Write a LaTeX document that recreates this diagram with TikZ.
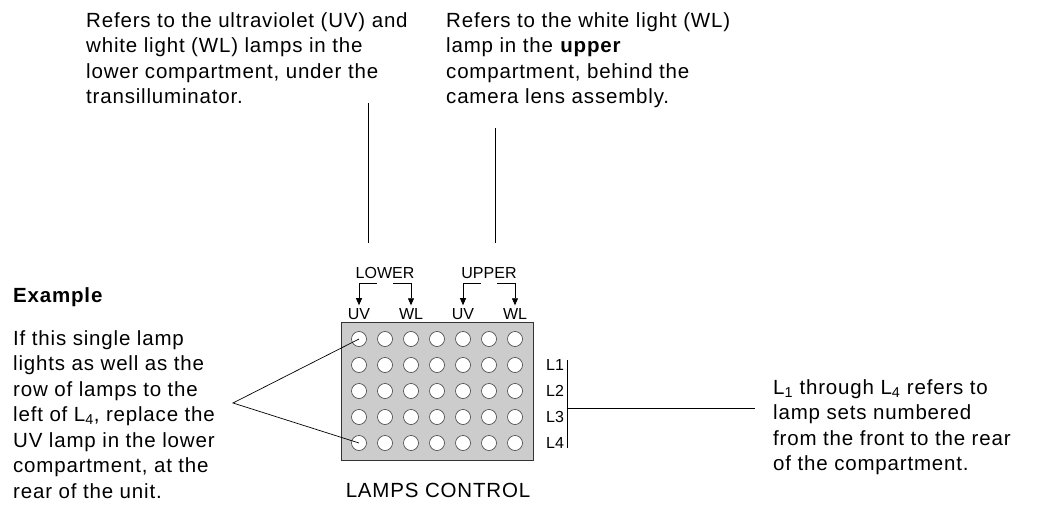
\documentclass[tikz,border=0pt]{standalone}
\usepackage{fontspec}
\setmainfont[LetterSpace=4]{Liberation Sans}
\newfontfamily\lblfont{Liberation Sans}
\usetikzlibrary{arrows.meta, positioning}

\begin{document}
\begin{tikzpicture}[x=1pt, y=-1pt,
  txt/.style={anchor=north west, inner sep=0pt, align=left, font=\fontsize{20.5}{25.5}\selectfont},
  lbl/.style={inner sep=0pt, font=\lblfont\fontsize{16}{16}\selectfont},
  lamp/.style={circle, draw=black!75, fill=white, minimum size=15pt, inner sep=0pt, line width=0.6pt},
  lead/.style={line width=0.7pt},
  selarrow/.style={line width=0.7pt, -{Triangle[length=7pt,width=6pt]}}]

    % my colors
\definecolor{panelgray}{gray}{0.8}

    % page size as the reference
    \useasboundingbox (0,0) rectangle (1038,505);

    % Define the lamp grid
    \def\cx{359} % x of first column
    \def\cy{339} % y of first row
    \def\dd{26}  % pitch of the lamps

    % Top notes
    \node[txt] (lownote) at (86,12) {Refers to the ultraviolet (UV) and\\ white light (WL) lamps in the\\ lower compartment, under the\\ transilluminator.};
    \node[txt] (upnote) at (446,12) {Refers to the white light (WL)\\ lamp in the \textbf{upper}\\ compartment, behind the\\ camera lens assembly.};

    % Draw the panel
    \node[draw=black!80, fill=panelgray, line width=0.7pt, minimum width=192pt, minimum height=138pt, inner sep=0pt] (panel) at (437,391) {};
    \foreach \r in {1,...,5}
      \foreach \c in {1,...,7}
        \node[lamp] (c-\r-\c) at ({\cx+\dd*(\c-1)},{\cy+\dd*(\r-1)}) {};

    % Column labels
    \node[lbl] (uvlow) at (359,314) {UV};
    \node[lbl] (wllow) at (411,314) {WL};
    \node[lbl] (uvup) at (463,314) {UV};
    \node[lbl] (wlup) at (515,314) {WL};
    \node[lbl] (lower) at (385,273) {LOWER};
    \node[lbl] (upper) at (489,273) {UPPER};

    % Brackets under LOWER and UPPER
    \coordinate (lowA) at (377,283);
    \coordinate (lowB) at (393,283);
    \coordinate (upA) at (481,283);
    \coordinate (upB) at (497,283);
    \draw[selarrow] (lowA) -| ([yshift=3pt]uvlow.north);
    \draw[selarrow] (lowB) -| ([yshift=3pt]wllow.north);
    \draw[selarrow] (upA) -| ([yshift=3pt]uvup.north);
    \draw[selarrow] (upB) -| ([yshift=3pt]wlup.north);

    % Leaders from the top notes
    \coordinate (lowtop) at (368,103);
    \coordinate (lowbot) at (368,243);
    \coordinate (uptop) at (495,128);
    \coordinate (upbot) at (495,243);
    \draw[lead] (lowtop) -- (lowbot);
    \draw[lead] (uptop) -- (upbot);

    % Row labels
    \foreach \r/\n in {2/1,3/2,4/3,5/4}
      \node[lbl, anchor=west] (L\n) at (546,{\cy+\dd*(\r-1)}) {L\n};
    \coordinate (bartop) at (567,360);
    \coordinate (barbot) at (567,448);
    \coordinate (barmid) at (567,408);
    \draw[lead] (bartop) -- (barbot);

    % Right note
    \node[txt] (rownote) at (773,379) {L\textsubscript{1} through L\textsubscript{4} refers to\\ lamp sets numbered\\ from the front to the rear\\ of the compartment.};
    \coordinate (rowend) at (755,408);
    \draw[lead] (barmid) -- (rowend);

    % Example on the left
    \node[txt, font=\fontsize{20.5}{25.5}\selectfont\bfseries] (exhead) at (13,287) {Example};
    \node[txt] (exnote) at (13,330) {If this single lamp\\ lights as well as the\\ row of lamps to the\\ left of L\textsubscript{4}, replace the\\ UV lamp in the lower\\ compartment, at the\\ rear of the unit.};
    \coordinate (tip) at (233,403);
    \draw[lead] (c-1-1.center) -- (tip) -- (c-5-1.center);

    % Panel caption
    \node[txt, anchor=center] (caption) at (438,490) {LAMPS CONTROL};

\end{tikzpicture}
\end{document}
